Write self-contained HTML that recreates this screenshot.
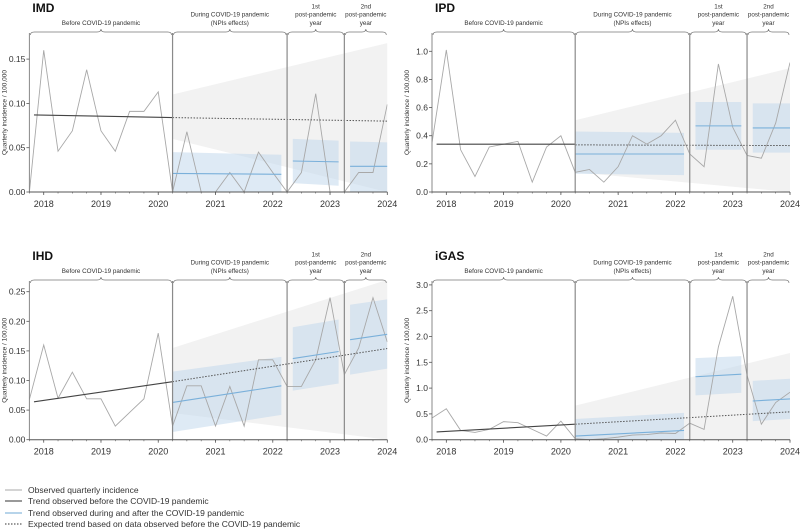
<!DOCTYPE html>
<html><head><meta charset="utf-8">
<style>
html,body{margin:0;padding:0;background:#fff;}
svg{display:block;font-family:"Liberation Sans",Arial,sans-serif;}
</style></head>
<body>
<svg id="chart" width="800" height="530" viewBox="0 0 800 530" xmlns="http://www.w3.org/2000/svg">
<g id="panels"></g>
<g font-size="8.5" fill="#333">
 <line x1="5" y1="490" x2="22" y2="490" stroke="#aaa" stroke-width="1"/>
 <text x="28" y="493">Observed quarterly incidence</text>
 <line x1="5" y1="501" x2="22" y2="501" stroke="#333" stroke-width="1"/>
 <text x="28" y="504">Trend observed before the COVID-19 pandemic</text>
 <line x1="5" y1="513" x2="22" y2="513" stroke="#6fa8d6" stroke-width="1"/>
 <text x="28" y="516">Trend observed during and after the COVID-19 pandemic</text>
 <line x1="5" y1="524" x2="22" y2="524" stroke="#333" stroke-width="1" stroke-dasharray="1.5,1.5"/>
 <text x="28" y="527">Expected trend based on data observed before the COVID-19 pandemic</text>
</g>
</svg>
<script>
// Quarterly time points 2017.75 .. 2024.0
const quarters = [];
for (let i = 0; i < 26; i++) quarters.push(2017.75 + i * 0.25);
const yearTicks = [2018, 2019, 2020, 2021, 2022, 2023, 2024];
const dividers = [2020.25, 2022.25, 2023.25];

const imdObserved = [0,0.16,0.046,0.069,0.138,0.069,0.046,0.091,0.091,0.113,0,0.068,0,0,0.022,0,0.045,0.022,0,0.022,0.111,0,0,0.022,0.022,0.099];
const ipdObserved = [0.35,1.01,0.30,0.11,0.32,0.34,0.36,0.07,0.32,0.40,0.14,0.16,0.07,0.18,0.40,0.34,0.40,0.51,0.27,0.18,0.91,0.46,0.26,0.24,0.49,0.92];
const ihdObserved = [0.068,0.16,0.07,0.114,0.069,0.069,0.023,0.046,0.069,0.18,0.023,0.091,0.091,0.023,0.09,0.023,0.135,0.135,0.09,0.09,0.135,0.24,0.11,0.155,0.24,0.165];
const igasObserved = [0.42,0.6,0.18,0.14,0.2,0.35,0.33,0.2,0.07,0.36,0.02,0.0,0.02,0.05,0.09,0.1,0.13,0.12,0.32,0.2,1.8,2.78,1.25,0.3,0.72,0.92];

// pre-trend [start(2017.83), end(2020.25)], expected [start(2020.25), end(2024)]
const imdPre = [0.087, 0.084], imdExpected = [0.084, 0.080];
const ipdPre = [0.34, 0.34], ipdExpected = [0.335, 0.33];
const ihdPre = [0.064, 0.098], ihdExpected = [0.098, 0.154];
const igasPre = [0.15, 0.30], igasExpected = [0.30, 0.54];

// expected fan [upperStart, upperEnd, lowerStart, lowerEnd]
const imdFan = [0.11, 0.168, 0.06, -0.03];
const ipdFan = [0.51, 0.88, 0.14, -0.3];
const ihdFan = [0.155, 0.40, 0.045, -0.01];
const igasFan = [0.66, 1.68, 0.0, 0.0];

// segments: [trendStart, trendEnd, upStart, upEnd, loStart, loEnd]
const imdSegs = [[0.021,0.020,0.045,0.042,0,0],[0.035,0.034,0.06,0.058,0.01,0.007],[0.029,0.029,0.057,0.056,0,0]];
const ipdSegs = [[0.27,0.27,0.43,0.42,0.13,0.12],[0.47,0.47,0.64,0.64,0.30,0.30],[0.455,0.455,0.63,0.63,0.28,0.28]];
const ihdSegs = [[0.063,0.091,0.115,0.14,0.013,0.042],[0.137,0.149,0.19,0.203,0.083,0.095],[0.169,0.178,0.228,0.237,0.11,0.12]];
const igasSegs = [[0.07,0.18,0.4,0.52,0,0],[1.22,1.27,1.58,1.62,0.86,0.91],[0.75,0.79,1.14,1.18,0.36,0.40]];

const imdTicks = [0, 0.05, 0.10, 0.15], ipdTicks = [0,0.2,0.4,0.6,0.8,1.0];
const ihdTicks = [0,0.05,0.10,0.15,0.20,0.25], igasTicks = [0,0.5,1.0,1.5,2.0,2.5,3.0];

const segTimes = [[2020.25, 2022.15], [2022.35, 2023.15], [2023.35, 2024.0]];
const NS = "http://www.w3.org/2000/svg";

const panels = [
 {name:"imd", title:"IMD", left:29.4, right:387.3, bottom:192, top:33, vmax:0.18, pxPer:44.3/0.05, obs:imdObserved, pre:imdPre, exp:imdExpected, fan:imdFan, segs:imdSegs, ticks:imdTicks, dec:2},
 {name:"ipd", title:"IPD", left:432, right:790, bottom:192, top:33, vmax:1.15, pxPer:140.7, obs:ipdObserved, pre:ipdPre, exp:ipdExpected, fan:ipdFan, segs:ipdSegs, ticks:ipdTicks, dec:1},
 {name:"ihd", title:"IHD", left:29.4, right:387.3, bottom:439.7, top:281, vmax:0.27, pxPer:29.6/0.05, obs:ihdObserved, pre:ihdPre, exp:ihdExpected, fan:ihdFan, segs:ihdSegs, ticks:ihdTicks, dec:2},
 {name:"igas", title:"iGAS", left:432, right:790, bottom:439.7, top:281, vmax:3.1, pxPer:25.8/0.5, obs:igasObserved, pre:igasPre, exp:igasExpected, fan:igasFan, segs:igasSegs, ticks:igasTicks, dec:1}
];

function mk(tag, attrs, parent){const e=document.createElementNS(NS,tag);for(const k in attrs)e.setAttribute(k,attrs[k]);parent.appendChild(e);return e;}

const root = document.getElementById('panels');
panels.forEach(p => {
 const g = mk('g', {}, root);
 
 
 const pxYear = (p.right - p.left) / 6.25;
 const X = t => p.left + (t - 2017.75) * pxYear;
 const Y = v => p.bottom - Math.max(0, Math.min(v, p.vmax)) * p.pxPer;
 const clip = 'clip-' + p.name;
 const cp = mk('clipPath', {id: clip}, g);
 mk('rect', {x:p.left, y:p.top, width:p.right-p.left, height:p.bottom-p.top}, cp);
 const pg = mk('g', {'clip-path':'url(#'+clip+')'}, g);
 // fan
 const f = p.fan, t0 = 2020.25, t1 = 2024;
 const fan = mk('polygon', {points:`${X(t0)},${Y(f[0])} ${X(t1)},${Y(f[1])} ${X(t1)},${Y(f[3])} ${X(t0)},${Y(f[2])}`, fill:'#f2f2f2'}, pg);
 
 
 // blue bands & trends
 p.segs.forEach((s, i) => {
  const [a, b] = segTimes[i];
  const band = mk('polygon', {points:`${X(a)},${Y(s[2])} ${X(b)},${Y(s[3])} ${X(b)},${Y(s[5])} ${X(a)},${Y(s[4])}`, fill:'rgba(190,214,236,0.5)'}, pg);
  
  
 });
 // dividers
 dividers.forEach(d => {
  const l = mk('line', {x1:X(d), x2:X(d), y1:p.top, y2:p.bottom, stroke:'#8a8a8a', 'stroke-width':1.2}, g);
  
  
 });
 // observed
 const obs = mk('polyline', {points:p.obs.map((v,i)=>`${X(quarters[i])},${Y(v)}`).join(' '), fill:'none', stroke:'#a8a8a8', 'stroke-width':0.9}, pg);
 
 
 // pre trend
 const pre = mk('line', {x1:X(2017.83), y1:Y(p.pre[0]), x2:X(2020.25), y2:Y(p.pre[1]), stroke:'#444', 'stroke-width':1.1}, pg);
 
 
 const ex = mk('line', {x1:X(2020.25), y1:Y(p.exp[0]), x2:X(2024), y2:Y(p.exp[1]), stroke:'#555', 'stroke-width':1, 'stroke-dasharray':'1.5,1.5'}, pg);
 
 
 p.segs.forEach((s, i) => {
  const [a, b] = segTimes[i];
  const tl = mk('line', {x1:X(a), y1:Y(s[0]), x2:X(b), y2:Y(s[1]), stroke:'#7ab0da', 'stroke-width':1.1}, pg);
  
  
 });
 // axes
 mk('line', {x1:p.left, x2:p.left, y1:p.top, y2:p.bottom, stroke:'#888', 'stroke-width':1}, g);
 mk('line', {x1:p.left, x2:p.right, y1:p.bottom, y2:p.bottom, stroke:'#555', 'stroke-width':1}, g);
 quarters.forEach(q => mk('line', {x1:X(q), x2:X(q), y1:p.bottom, y2:p.bottom+1.5, stroke:'#555', 'stroke-width':0.6}, g));
 yearTicks.forEach(yr => {
  mk('line', {x1:X(yr), x2:X(yr), y1:p.bottom, y2:p.bottom+3, stroke:'#555', 'stroke-width':0.8}, g);
  const t = mk('text', {x:X(yr), y:p.bottom+15, 'text-anchor':'middle', 'font-size':9, fill:'#333'}, g);
  t.textContent = yr;
  
  
 });
 p.ticks.forEach(v => {
  mk('line', {x1:p.left-3, x2:p.left, y1:Y(v), y2:Y(v), stroke:'#555', 'stroke-width':0.8}, g);
  const t = mk('text', {x:p.left-4, y:Y(v)+3, 'text-anchor':'end', 'font-size':8.5, fill:'#333'}, g);
  t.textContent = v.toFixed(p.dec);
  
  
 });
 const cy = (p.top + p.bottom) / 2, yx = p.left - 23;
 const yt = mk('text', {x:yx, y:cy, 'text-anchor':'middle', 'font-size':6.5, fill:'#333', transform:`rotate(-90 ${yx} ${cy})`}, g);
 yt.textContent = 'Quarterly incidence / 100,000';
 
 
 const title = mk('text', {x:p.left+3, y:p.top-21, 'font-size':12, 'font-weight':'bold', fill:'#111'}, g);
 title.textContent = p.title;
 
 
 // braces
 const spans = [[2017.75,2020.25,['Before COVID-19 pandemic']],[2020.25,2022.25,['During COVID-19 pandemic','(NPIs effects)']],[2022.25,2023.25,['1st','post-pandemic','year']],[2023.25,2024,['2nd','post-pandemic','year']]];
 spans.forEach((s, i) => {
  const a = X(s[0]) + 1, b = X(s[1]) - 1, m = (a+b)/2, y = p.top - 1;
  const br = mk('path', {d:`M${a},${y+3} Q${a},${y} ${a+4},${y} L${m-4},${y} Q${m},${y} ${m},${y-3} Q${m},${y} ${m+4},${y} L${b-4},${y} Q${b},${y} ${b},${y+3}`, fill:'none', stroke:'#777', 'stroke-width':0.7}, g);
  
  
  const lines = s[2];
  lines.forEach((ln, j) => {
   const t = mk('text', {x:m, y:p.top - 8 - (lines.length-1-j)*8.3, 'text-anchor':'middle', 'font-size':6.3, fill:'#333'}, g);
   t.textContent = ln;
   
   
  });
 });
});
</script>
</body></html>
